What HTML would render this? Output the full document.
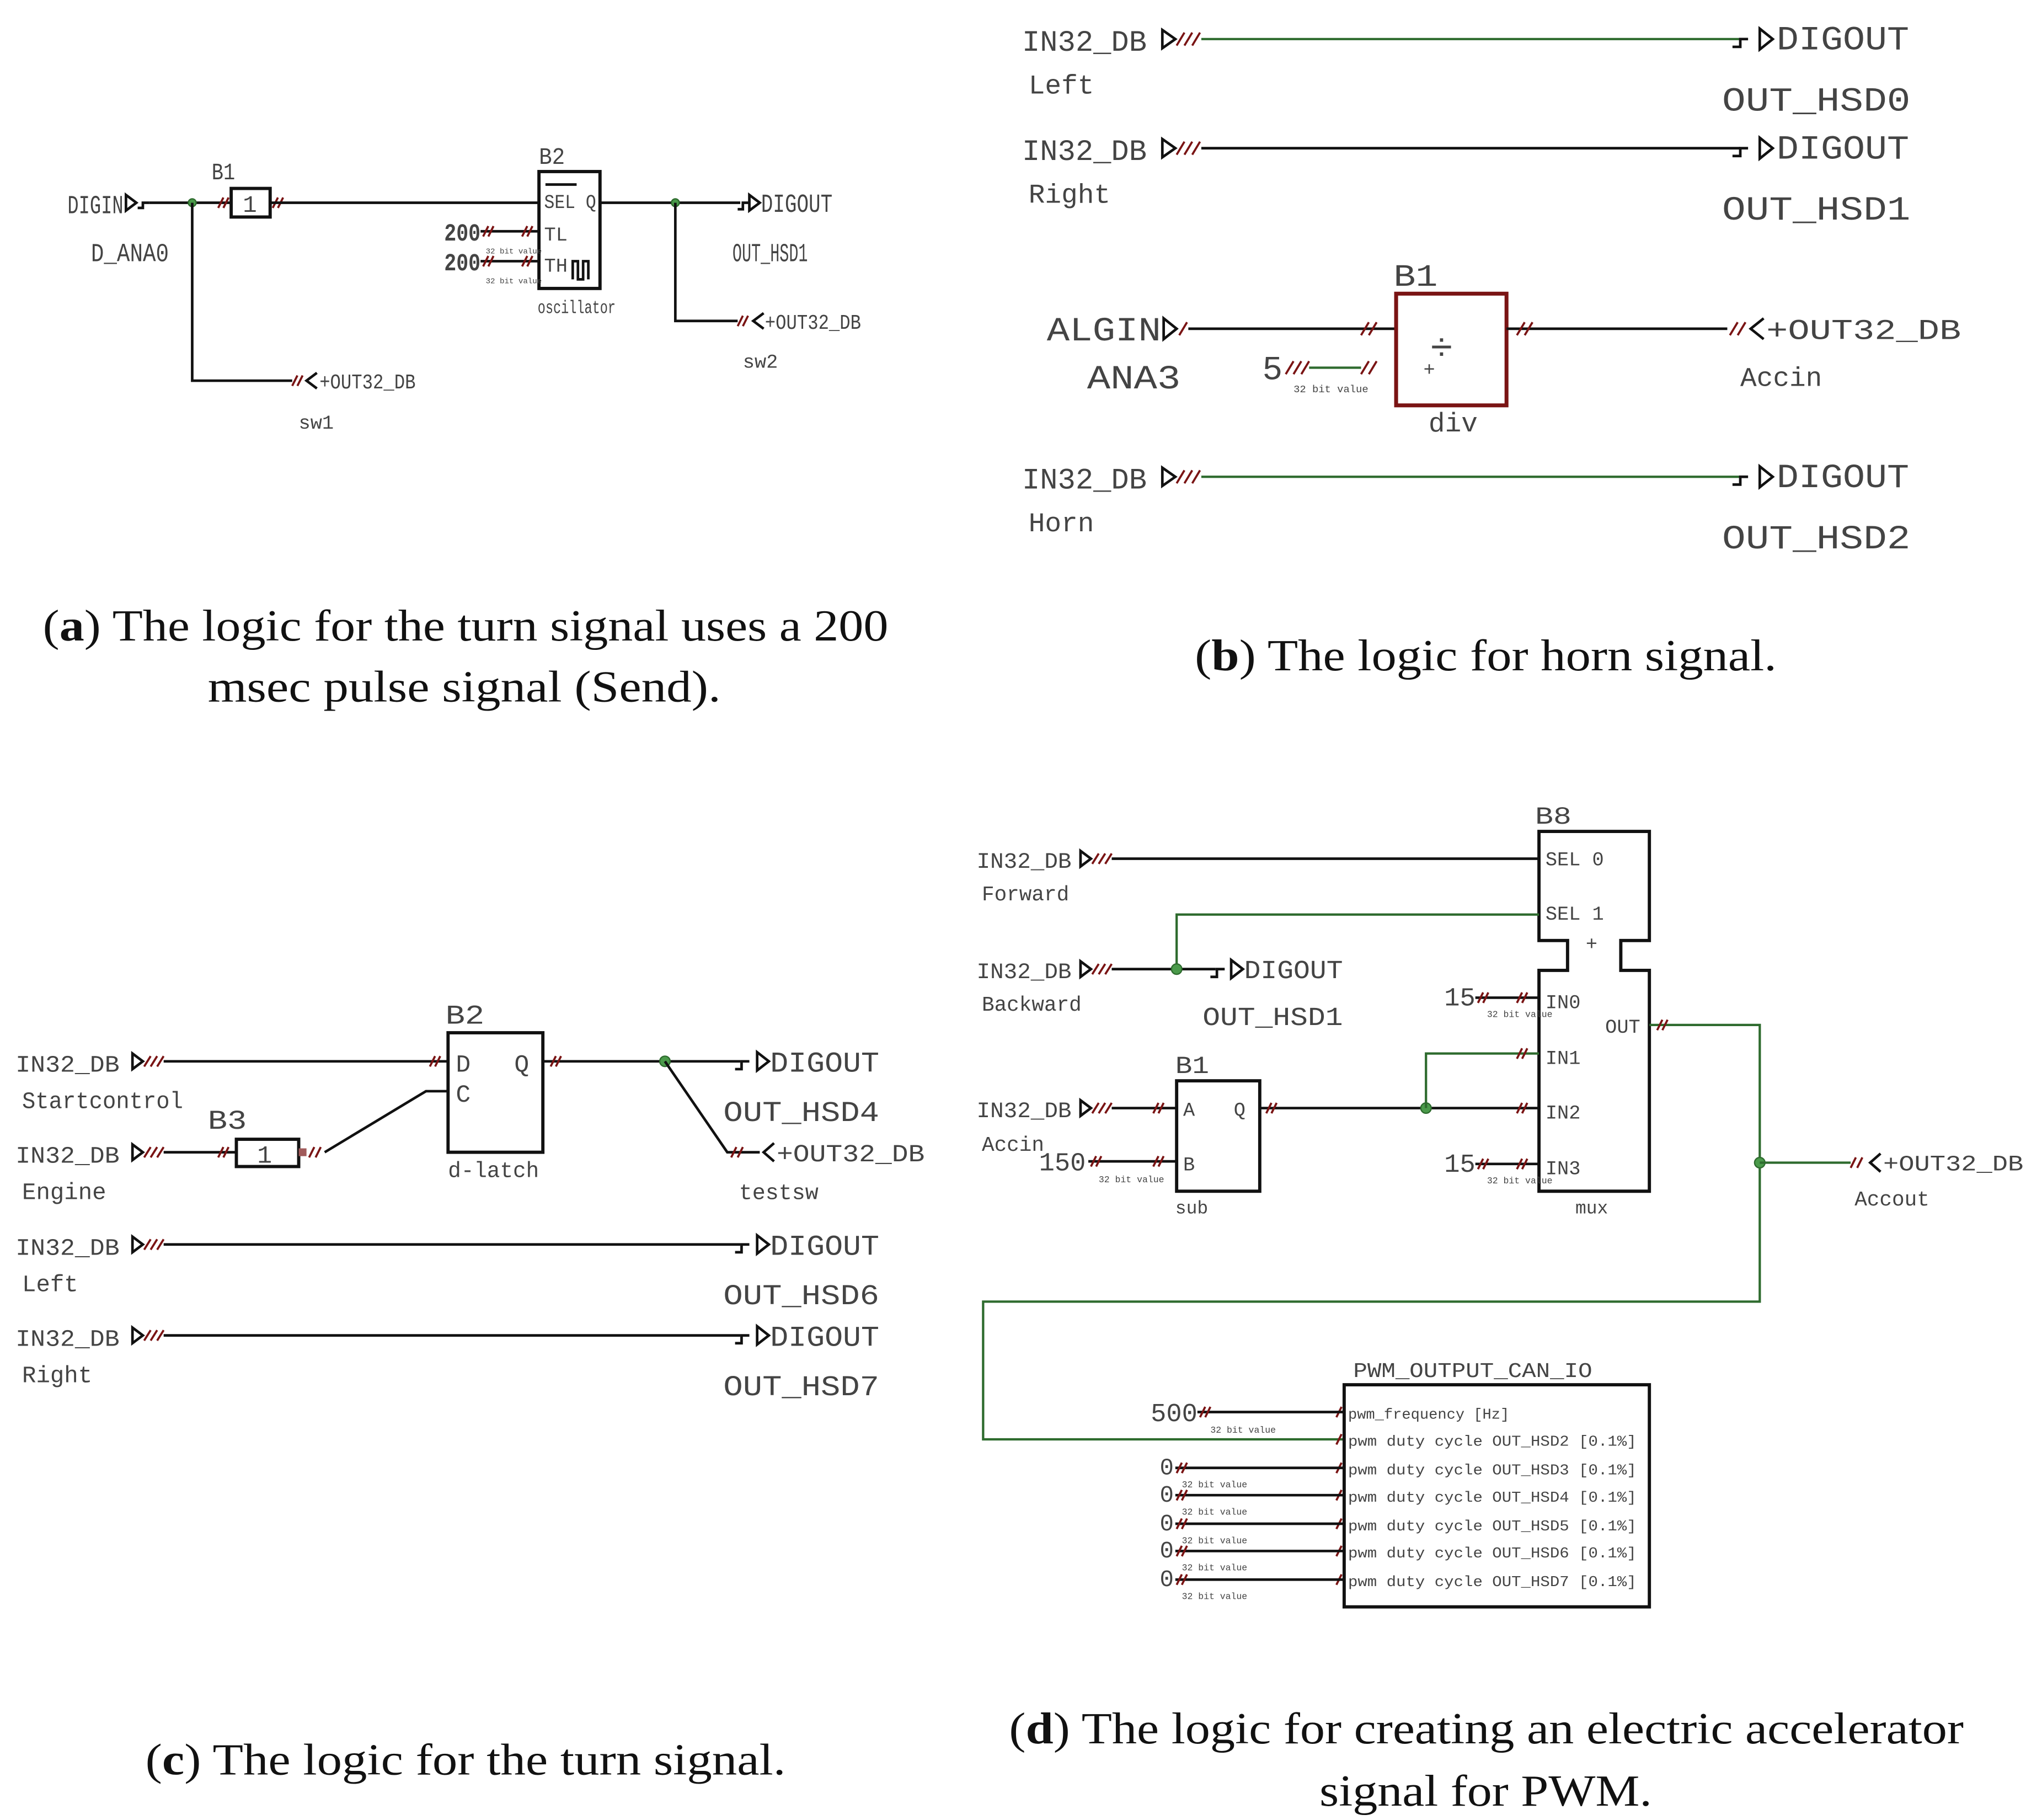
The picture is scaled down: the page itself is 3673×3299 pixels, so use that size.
<!DOCTYPE html>
<html><head><meta charset="utf-8"><style>
html,body{margin:0;padding:0;background:#fff}
svg{display:block}
.t{font-family:"Liberation Mono","DejaVu Sans Mono",monospace;fill:#444}
.c{font-family:"Liberation Serif",serif;fill:#111;font-size:34px}
.w{stroke:#111;stroke-width:2;fill:none}
.g{stroke:#2e6b2e;stroke-width:1.8;fill:none}
.r{stroke:#7a1414;stroke-width:1.6;fill:none}
.bx{stroke:#111;stroke-width:2.5;fill:#fff}
.rb{stroke:#7a1414;stroke-width:3;fill:#fff}
.dot{fill:#4a9a4a;stroke:#2e6b2e}
</style></head><body>
<svg width="3673" height="3299" viewBox="0 0 1560 1401" xmlns="http://www.w3.org/2000/svg">
<rect width="1560" height="1401" fill="#fff"/>

<!-- ================= (a) ================= -->
<text class="t" x="52" y="164" font-size="20" textLength="43" lengthAdjust="spacingAndGlyphs">DIGIN</text>
<path class="w" d="M97 150 L105 156 L97 162 Z M106 160h4v-4h5"/>
<path class="w" d="M115 156H178"/>
<circle class="dot" cx="148" cy="156" r="3"/>
<text class="t" x="163" y="138" font-size="18" textLength="18" lengthAdjust="spacingAndGlyphs">B1</text>
<path class="r" d="M168 160l4-8M172 160l4-8"/>
<rect class="bx" x="178" y="145" width="30" height="22"/>
<text class="t" x="187" y="163" font-size="18">1</text>
<path class="r" d="M210 160l4-8M214 160l4-8"/>
<path class="w" d="M208 156H415"/>
<text class="t" x="70" y="201" font-size="20" textLength="60" lengthAdjust="spacingAndGlyphs">D_ANA0</text>
<path class="w" d="M148 156V293H225"/>
<path class="r" d="M225 297l4-8M229 297l4-8"/>
<path class="w" d="M244 287l-8 6l8 6"/>
<text class="t" x="246" y="299" font-size="16" textLength="74" lengthAdjust="spacingAndGlyphs">+OUT32_DB</text>
<text class="t" x="230" y="330" font-size="15">sw1</text>

<text class="t" x="415" y="126" font-size="18" textLength="20" lengthAdjust="spacingAndGlyphs">B2</text>
<rect class="bx" x="415" y="132" width="47" height="90"/>
<path class="w" d="M420 142H444" stroke-width="1.2"/>
<text class="t" x="419" y="160" font-size="15" textLength="40" lengthAdjust="spacingAndGlyphs">SEL Q</text>
<text class="t" x="419" y="185" font-size="15">TL</text>
<text class="t" x="419" y="209" font-size="15">TH</text>
<path class="w" d="M441 215V201h4v14h4V201h4v14" stroke-width="1.3"/>
<text class="t" x="414" y="241" font-size="14" textLength="60" lengthAdjust="spacingAndGlyphs">oscillator</text>
<text class="t" x="342" y="185" font-size="19" font-weight="bold" textLength="28" lengthAdjust="spacingAndGlyphs">200</text>
<text class="t" x="342" y="208" font-size="19" font-weight="bold" textLength="28" lengthAdjust="spacingAndGlyphs">200</text>
<path class="w" d="M370 178H415M370 201H415"/>
<path class="r" d="M372 182l4-8M376 182l4-8M402 182l4-8M406 182l4-8M372 205l4-8M376 205l4-8M402 205l4-8M406 205l4-8"/>
<text class="t" x="374" y="195" font-size="6">32 bit value</text>
<text class="t" x="374" y="218" font-size="6">32 bit value</text>

<path class="w" d="M462 156H570"/>
<circle class="dot" cx="520" cy="156" r="3"/>
<path class="w" d="M568 161h4v-5h4 M577 150 L585 156 L577 162Z"/>
<text class="t" x="586" y="163" font-size="20" textLength="55" lengthAdjust="spacingAndGlyphs">DIGOUT</text>
<text class="t" x="564" y="201" font-size="20" textLength="58" lengthAdjust="spacingAndGlyphs">OUT_HSD1</text>
<path class="w" d="M520 156V247H568"/>
<path class="r" d="M568 251l4-8M572 251l4-8"/>
<path class="w" d="M588 241l-8 6l8 6"/>
<text class="t" x="589" y="253" font-size="16" textLength="74" lengthAdjust="spacingAndGlyphs">+OUT32_DB</text>
<text class="t" x="572" y="283" font-size="15">sw2</text>

<text class="c" x="33" y="493" textLength="651" lengthAdjust="spacingAndGlyphs">(<tspan font-weight="bold">a</tspan>) The logic for the turn signal uses a 200</text>
<text class="c" x="160" y="540" textLength="395" lengthAdjust="spacingAndGlyphs">msec pulse signal (Send).</text>

<!-- ================= (b) ================= -->
<g>
<text class="t" x="787" y="39" font-size="23" textLength="96" lengthAdjust="spacingAndGlyphs">IN32_DB</text>
<path class="w" d="M895 23L905 30L895 37Z"/><path class="r" d="M906 35l6-10M912 35l6-10M918 35l6-10"/>
<path class="g" d="M925 30H1340"/>
<path class="w" d="M1334 36h6v-6h6 M1355 22L1365 30L1355 38Z"/>
<text class="t" x="1368" y="38" font-size="26" textLength="102" lengthAdjust="spacingAndGlyphs">DIGOUT</text>
<text class="t" x="792" y="72" font-size="21">Left</text>
<text class="t" x="1326" y="85" font-size="26" textLength="145" lengthAdjust="spacingAndGlyphs">OUT_HSD0</text>
</g>
<g transform="translate(0,84)">
<text class="t" x="787" y="39" font-size="23" textLength="96" lengthAdjust="spacingAndGlyphs">IN32_DB</text>
<path class="w" d="M895 23L905 30L895 37Z"/><path class="r" d="M906 35l6-10M912 35l6-10M918 35l6-10"/>
<path class="w" d="M925 30H1340" stroke-width="1.5"/>
<path class="w" d="M1334 36h6v-6h6 M1355 22L1365 30L1355 38Z"/>
<text class="t" x="1368" y="38" font-size="26" textLength="102" lengthAdjust="spacingAndGlyphs">DIGOUT</text>
<text class="t" x="792" y="72" font-size="21">Right</text>
<text class="t" x="1326" y="85" font-size="26" textLength="145" lengthAdjust="spacingAndGlyphs">OUT_HSD1</text>
</g>
<text class="t" x="806" y="262" font-size="26" textLength="88" lengthAdjust="spacingAndGlyphs">ALGIN</text>
<path class="w" d="M896 245L906 253L896 261Z"/><path class="r" d="M908 258l6-10"/>
<path class="w" d="M915 253H1075"/>
<path class="r" d="M1048 258l6-10M1054 258l6-10"/>
<text class="t" x="837" y="299" font-size="26" textLength="72" lengthAdjust="spacingAndGlyphs">ANA3</text>
<text class="t" x="972" y="292" font-size="26">5</text>
<path class="r" d="M990 288l6-10M996 288l6-10M1002 288l6-10M1048 288l6-10M1054 288l6-10"/>
<path class="g" d="M1008 283H1048"/>
<text class="t" x="996" y="302" font-size="8">32 bit value</text>
<text class="t" x="1073" y="220" font-size="24" textLength="34" lengthAdjust="spacingAndGlyphs">B1</text>
<rect class="rb" x="1075" y="226" width="85" height="86"/>
<text class="t" x="1101" y="277" font-size="30" fill="#111">÷</text>
<text class="t" x="1096" y="289" font-size="15" fill="#7a1414">+</text>
<text class="t" x="1100" y="332" font-size="21">div</text>
<path class="w" d="M1160 253H1330"/>
<path class="r" d="M1168 258l6-10M1174 258l6-10M1332 258l6-10M1338 258l6-10"/>
<path class="w" d="M1358 245l-10 8l10 8"/>
<text class="t" x="1360" y="261" font-size="22" textLength="150" lengthAdjust="spacingAndGlyphs">+OUT32_DB</text>
<text class="t" x="1340" y="297" font-size="21">Accin</text>
<g transform="translate(0,337)">
<text class="t" x="787" y="39" font-size="23" textLength="96" lengthAdjust="spacingAndGlyphs">IN32_DB</text>
<path class="w" d="M895 23L905 30L895 37Z"/><path class="r" d="M906 35l6-10M912 35l6-10M918 35l6-10"/>
<path class="g" d="M925 30H1340"/>
<path class="w" d="M1334 36h6v-6h6 M1355 22L1365 30L1355 38Z"/>
<text class="t" x="1368" y="38" font-size="26" textLength="102" lengthAdjust="spacingAndGlyphs">DIGOUT</text>
<text class="t" x="792" y="72" font-size="21">Horn</text>
<text class="t" x="1326" y="85" font-size="26" textLength="145" lengthAdjust="spacingAndGlyphs">OUT_HSD2</text>
</g>
<text class="c" x="920" y="516" textLength="448" lengthAdjust="spacingAndGlyphs">(<tspan font-weight="bold">b</tspan>) The logic for horn signal.</text>

<!-- ================= (c) ================= -->
<text class="t" x="12" y="825" font-size="18" textLength="80" lengthAdjust="spacingAndGlyphs">IN32_DB</text>
<path class="w" d="M102 811L110 817L102 823Z"/><path class="r" d="M111 821l5-8M116 821l5-8M121 821l5-8"/>
<path class="w" d="M126 817H345"/>
<path class="r" d="M331 821l4-8M335 821l4-8"/>
<text class="t" x="17" y="853" font-size="18" textLength="124" lengthAdjust="spacingAndGlyphs">Startcontrol</text>
<text class="t" x="343" y="788" font-size="21" textLength="30" lengthAdjust="spacingAndGlyphs">B2</text>
<rect class="bx" x="345" y="795" width="73" height="92"/>
<text class="t" x="351" y="825" font-size="19">D</text>
<text class="t" x="351" y="848" font-size="19">C</text>
<text class="t" x="396" y="825" font-size="19">Q</text>
<text class="t" x="345" y="906" font-size="17" textLength="70" lengthAdjust="spacingAndGlyphs">d-latch</text>

<text class="t" x="12" y="895" font-size="18" textLength="80" lengthAdjust="spacingAndGlyphs">IN32_DB</text>
<path class="w" d="M102 881L110 887L102 893Z"/><path class="r" d="M111 891l5-8M116 891l5-8M121 891l5-8"/>
<path class="w" d="M126 887H182"/>
<path class="r" d="M168 891l4-8M172 891l4-8"/>
<text class="t" x="160" y="869" font-size="21" textLength="30" lengthAdjust="spacingAndGlyphs">B3</text>
<rect class="bx" x="182" y="877" width="48" height="21"/>
<text class="t" x="198" y="895" font-size="19">1</text>
<rect x="230" y="884" width="6" height="6" fill="#a05a5a"/>
<path class="r" d="M238 891l4-8M243 891l4-8"/>
<path class="w" d="M250 887L328 840H345" stroke-width="1.5"/>
<text class="t" x="17" y="923" font-size="18">Engine</text>

<path class="w" d="M418 817H570"/>
<path class="r" d="M424 821l4-8M428 821l4-8"/>
<circle class="dot" cx="512" cy="817" r="4"/>
<path class="w" d="M566 823h5v-6h6 M583 810L592 817L583 824Z"/>
<text class="t" x="593" y="825" font-size="22" textLength="84" lengthAdjust="spacingAndGlyphs">DIGOUT</text>
<text class="t" x="557" y="863" font-size="22" textLength="120" lengthAdjust="spacingAndGlyphs">OUT_HSD4</text>
<path class="w" d="M512 817L560 887H585" stroke-width="1.5"/>
<path class="r" d="M563 891l4-8M568 891l4-8"/>
<path class="w" d="M596 880l-8 7l8 7"/>
<text class="t" x="598" y="894" font-size="19" textLength="114" lengthAdjust="spacingAndGlyphs">+OUT32_DB</text>
<text class="t" x="569" y="923" font-size="17">testsw</text>

<g transform="translate(0,141)">
<text class="t" x="12" y="825" font-size="18" textLength="80" lengthAdjust="spacingAndGlyphs">IN32_DB</text>
<path class="w" d="M102 811L110 817L102 823Z"/><path class="r" d="M111 821l5-8M116 821l5-8M121 821l5-8"/>
<path class="w" d="M126 817H570" stroke-width="1.5"/>
<path class="w" d="M566 823h5v-6h6 M583 810L592 817L583 824Z"/>
<text class="t" x="593" y="825" font-size="22" textLength="84" lengthAdjust="spacingAndGlyphs">DIGOUT</text>
<text class="t" x="17" y="853" font-size="18">Left</text>
<text class="t" x="557" y="863" font-size="22" textLength="120" lengthAdjust="spacingAndGlyphs">OUT_HSD6</text>
</g>
<g transform="translate(0,211)">
<text class="t" x="12" y="825" font-size="18" textLength="80" lengthAdjust="spacingAndGlyphs">IN32_DB</text>
<path class="w" d="M102 811L110 817L102 823Z"/><path class="r" d="M111 821l5-8M116 821l5-8M121 821l5-8"/>
<path class="w" d="M126 817H570" stroke-width="1.5"/>
<path class="w" d="M566 823h5v-6h6 M583 810L592 817L583 824Z"/>
<text class="t" x="593" y="825" font-size="22" textLength="84" lengthAdjust="spacingAndGlyphs">DIGOUT</text>
<text class="t" x="17" y="853" font-size="18">Right</text>
<text class="t" x="557" y="863" font-size="22" textLength="120" lengthAdjust="spacingAndGlyphs">OUT_HSD7</text>
</g>
<text class="c" x="112" y="1366" textLength="493" lengthAdjust="spacingAndGlyphs">(<tspan font-weight="bold">c</tspan>) The logic for the turn signal.</text>

<!-- ================= (d) ================= -->
<text class="t" x="752" y="668" font-size="17" textLength="73" lengthAdjust="spacingAndGlyphs">IN32_DB</text>
<path class="w" d="M832 655L840 661L832 667Z"/><path class="r" d="M841 665l5-8M846 665l5-8M851 665l5-8"/>
<path class="w" d="M856 661H1185" stroke-width="1.5"/>
<text class="t" x="756" y="693" font-size="16">Forward</text>
<text class="t" x="1182" y="634" font-size="19" textLength="28" lengthAdjust="spacingAndGlyphs">B8</text>
<path class="bx" d="M1185 640H1270V724H1248V747H1270V917H1185V747H1207V724H1185Z"/>
<text class="t" x="1190" y="666" font-size="15">SEL 0</text>
<text class="t" x="1190" y="708" font-size="15">SEL 1</text>
<text class="t" x="1221" y="731" font-size="15">+</text>
<text class="t" x="1190" y="776" font-size="15">IN0</text>
<text class="t" x="1236" y="795" font-size="15">OUT</text>
<text class="t" x="1190" y="819" font-size="15">IN1</text>
<text class="t" x="1190" y="861" font-size="15">IN2</text>
<text class="t" x="1190" y="904" font-size="15">IN3</text>
<text class="t" x="1213" y="934" font-size="14">mux</text>

<path class="g" d="M1185 704H906V746"/>
<text class="t" x="752" y="753" font-size="17" textLength="73" lengthAdjust="spacingAndGlyphs">IN32_DB</text>
<path class="w" d="M832 740L840 746L832 752Z"/><path class="r" d="M841 750l5-8M846 750l5-8M851 750l5-8"/>
<path class="w" d="M856 746H936" stroke-width="1.5"/>
<circle class="dot" cx="906" cy="746" r="4"/>
<path class="w" d="M932 752h5v-6h6 M948 739L957 746L948 753Z"/>
<text class="t" x="958" y="753" font-size="20" textLength="76" lengthAdjust="spacingAndGlyphs">DIGOUT</text>
<text class="t" x="756" y="778" font-size="16">Backward</text>
<text class="t" x="926" y="789" font-size="20" textLength="108" lengthAdjust="spacingAndGlyphs">OUT_HSD1</text>

<text class="t" x="1112" y="774" font-size="20">15</text>
<path class="w" d="M1136 768H1185" stroke-width="1.5"/>
<path class="r" d="M1138 772l4-8M1142 772l4-8M1168 772l4-8M1172 772l4-8"/>
<text class="t" x="1145" y="783" font-size="7">32 bit value</text>

<text class="t" x="905" y="826" font-size="19" textLength="26" lengthAdjust="spacingAndGlyphs">B1</text>
<rect class="bx" x="906" y="832" width="64" height="85"/>
<text class="t" x="911" y="859" font-size="15">A</text>
<text class="t" x="950" y="859" font-size="15">Q</text>
<text class="t" x="911" y="901" font-size="15">B</text>
<text class="t" x="905" y="934" font-size="14">sub</text>
<text class="t" x="752" y="860" font-size="17" textLength="73" lengthAdjust="spacingAndGlyphs">IN32_DB</text>
<path class="w" d="M832 847L840 853L832 859Z"/><path class="r" d="M841 857l5-8M846 857l5-8M851 857l5-8"/>
<path class="w" d="M856 853H906" stroke-width="1.5"/>
<path class="r" d="M888 857l4-8M892 857l4-8"/>
<text class="t" x="756" y="886" font-size="16">Accin</text>
<text class="t" x="800" y="901" font-size="20">150</text>
<path class="w" d="M838 894H906" stroke-width="1.5"/>
<path class="r" d="M840 898l4-8M844 898l4-8M888 898l4-8M892 898l4-8"/>
<text class="t" x="846" y="910" font-size="7">32 bit value</text>

<path class="w" d="M970 853H1185" stroke-width="1.5"/>
<path class="r" d="M975 857l4-8M979 857l4-8M1168 857l4-8M1172 857l4-8"/>
<circle class="dot" cx="1098" cy="853" r="4"/>
<path class="g" d="M1098 853V811H1185"/>
<path class="r" d="M1168 815l4-8M1172 815l4-8"/>
<text class="t" x="1112" y="902" font-size="20">15</text>
<path class="w" d="M1136 896H1185" stroke-width="1.5"/>
<path class="r" d="M1138 900l4-8M1142 900l4-8M1168 900l4-8M1172 900l4-8"/>
<text class="t" x="1145" y="911" font-size="7">32 bit value</text>

<path class="g" d="M1270 789H1355V1002H757V1108H1035"/>
<path class="r" d="M1276 793l4-8M1280 793l4-8"/>
<circle class="dot" cx="1355" cy="895" r="4"/>
<path class="g" d="M1355 895H1425"/>
<path class="r" d="M1425 899l4-8M1430 899l4-8"/>
<path class="w" d="M1448 888l-8 7l8 7"/>
<text class="t" x="1450" y="901" font-size="17" textLength="108" lengthAdjust="spacingAndGlyphs">+OUT32_DB</text>
<text class="t" x="1428" y="928" font-size="16">Accout</text>

<text class="t" x="1042" y="1060" font-size="16" textLength="184" lengthAdjust="spacingAndGlyphs">PWM_OUTPUT_CAN_IO</text>
<rect class="bx" x="1035" y="1066" width="235" height="171"/>
<text class="t" x="1038" y="1092" font-size="11.5">pwm_frequency [Hz]</text>
<text class="t" x="1038" y="1113" font-size="11.5" textLength="222" lengthAdjust="spacingAndGlyphs">pwm duty cycle OUT_HSD2 [0.1%]</text>
<text class="t" x="1038" y="1135" font-size="11.5" textLength="222" lengthAdjust="spacingAndGlyphs">pwm duty cycle OUT_HSD3 [0.1%]</text>
<text class="t" x="1038" y="1156" font-size="11.5" textLength="222" lengthAdjust="spacingAndGlyphs">pwm duty cycle OUT_HSD4 [0.1%]</text>
<text class="t" x="1038" y="1178" font-size="11.5" textLength="222" lengthAdjust="spacingAndGlyphs">pwm duty cycle OUT_HSD5 [0.1%]</text>
<text class="t" x="1038" y="1199" font-size="11.5" textLength="222" lengthAdjust="spacingAndGlyphs">pwm duty cycle OUT_HSD6 [0.1%]</text>
<text class="t" x="1038" y="1221" font-size="11.5" textLength="222" lengthAdjust="spacingAndGlyphs">pwm duty cycle OUT_HSD7 [0.1%]</text>
<path class="r" d="M1029 1091l4-8M1029 1112l4-8M1029 1134l4-8M1029 1155l4-8M1029 1177l4-8M1029 1198l4-8M1029 1220l4-8"/>
<text class="t" x="886" y="1094" font-size="20">500</text>
<path class="w" d="M922 1087H1035" stroke-width="1.2"/>
<path class="r" d="M924 1091l4-8M928 1091l4-8"/>
<text class="t" x="932" y="1103" font-size="7">32 bit value</text>
<text class="t" x="893" y="1135" font-size="18">0</text>
<text class="t" x="893" y="1156" font-size="18">0</text>
<text class="t" x="893" y="1178" font-size="18">0</text>
<text class="t" x="893" y="1199" font-size="18">0</text>
<text class="t" x="893" y="1221" font-size="18">0</text>
<path class="w" d="M905 1130H1035M905 1151H1035M905 1173H1035M905 1194H1035M905 1216H1035" stroke-width="1.2"/>
<path class="r" d="M906 1134l4-8M910 1134l4-8M906 1155l4-8M910 1155l4-8M906 1177l4-8M910 1177l4-8M906 1198l4-8M910 1198l4-8M906 1220l4-8M910 1220l4-8"/>
<text class="t" x="910" y="1145" font-size="7">32 bit value</text>
<text class="t" x="910" y="1166" font-size="7">32 bit value</text>
<text class="t" x="910" y="1188" font-size="7">32 bit value</text>
<text class="t" x="910" y="1209" font-size="7">32 bit value</text>
<text class="t" x="910" y="1231" font-size="7">32 bit value</text>
<text class="c" x="777" y="1342" textLength="735" lengthAdjust="spacingAndGlyphs">(<tspan font-weight="bold">d</tspan>) The logic for creating an electric accelerator</text>
<text class="c" x="1016" y="1390" textLength="256" lengthAdjust="spacingAndGlyphs">signal for PWM.</text>
</svg>
</body></html>
